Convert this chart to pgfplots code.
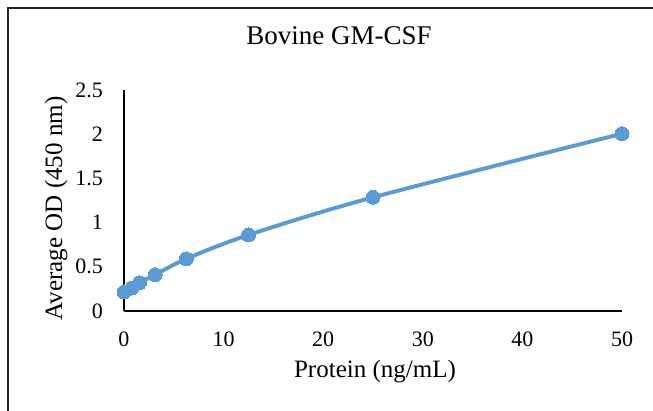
\documentclass[border=0pt]{standalone}
\usepackage{fontspec}
\setmainfont{Liberation Serif}
\usepackage{pgfplots}
\pgfplotsset{compat=1.18}
\definecolor{exblue}{HTML}{5B9BD5}
\begin{document}
\begin{tikzpicture}[x=1pt,y=1pt]
\useasboundingbox (0,0) rectangle (653,410);
\fill[white] (0,0) rectangle (653,410);
\draw[line width=1.4pt, black!85] (8,-10) -- (8,402) -- (670,402);
\begin{axis}[
  at={(124pt,99pt)}, anchor=south west,
  scale only axis, width=498pt, height=221pt,
  xmin=0, xmax=50, ymin=0, ymax=2.5,
  axis lines*=left,
  axis line style={-, line width=1.5pt, black},
  xtick={0,10,20,30,40,50},
  ytick={0,0.5,1,1.5,2,2.5},
  major tick length=0pt,
  /pgf/number format/assume math mode=true,
  tick label style={font=\fontsize{22}{22}\selectfont, inner sep=0pt},
  yticklabel style={anchor=east, xshift=-21pt},
  xticklabel style={anchor=north, yshift=-21pt},
  clip=false,
  title={Bovine GM-CSF},
  title style={at={(axis description cs:0.4317,1.1765)}, anchor=base, inner sep=0pt, font=\fontsize{27}{27}\selectfont},
  xlabel={Protein (ng/mL)},
  xlabel style={at={(axis description cs:0.504,-0.303)}, anchor=base, inner sep=0pt, font=\fontsize{25}{25}\selectfont},
  ylabel={Average OD (450 nm)},
  ylabel style={at={(axis description cs:-0.1245,0.464)}, anchor=base, rotate=0, inner sep=0pt, font=\fontsize{25}{25}\selectfont},
]
\addplot[exblue, line width=3.9pt, smooth, mark=*, mark size=7pt, mark options={fill=exblue, draw=exblue, line width=0pt}]
  coordinates {(0,0.215) (0.78,0.26) (1.5625,0.32) (3.125,0.41) (6.25,0.59) (12.5,0.86) (25,1.286) (50,2.006)};
\end{axis}
\end{tikzpicture}
\end{document}
